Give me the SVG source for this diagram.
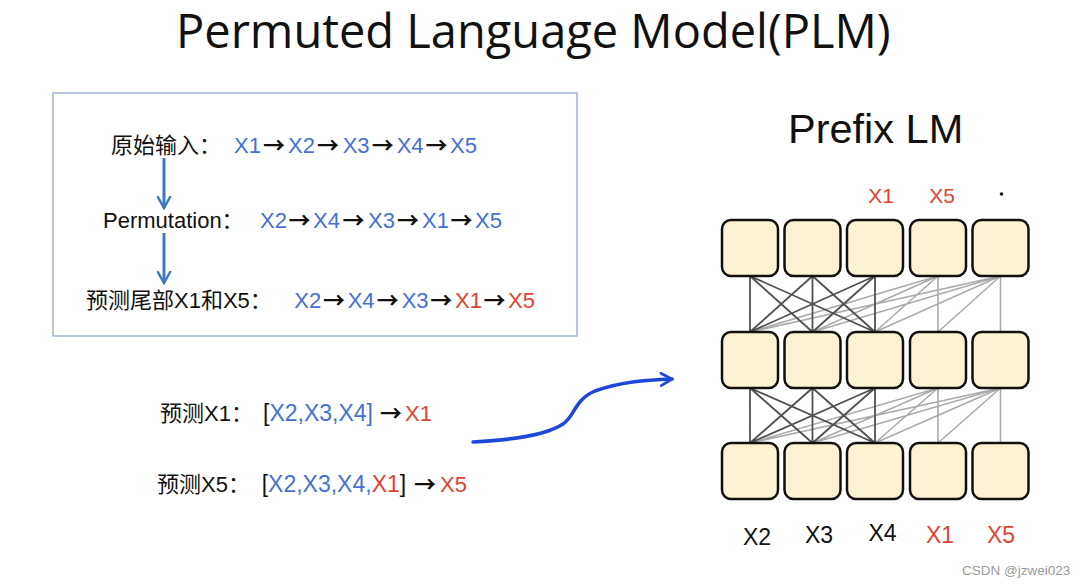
<svg xmlns="http://www.w3.org/2000/svg" width="1080" height="587" viewBox="0 0 1080 587">
<style>
text{font-family:"Liberation Sans","Noto Sans CJK SC",sans-serif;fill:#111}
.cjk{font-family:"Noto Sans CJK SC","Liberation Sans",sans-serif}
.t{font-size:22px}
.b{fill:#4470d8}
.r{fill:#e2432f}
.ar{font-family:"Noto Sans CJK SC",sans-serif;font-weight:bold;text-anchor:middle;fill:#111}
.box{fill:#fdf2d2;stroke:#111;stroke-width:2.5}
.dk{stroke:#505050;stroke-width:1.8}
.gy{stroke:#ababab;stroke-width:1.6}
.lbl{font-size:23px;text-anchor:middle}
</style>
<defs>
<marker id="va" viewBox="0 0 12 12" refX="10" refY="6" markerWidth="5" markerHeight="5" orient="auto" markerUnits="strokeWidth">
<path d="M1,1 L10,6 L1,11" fill="none" stroke="#3b7bc2" stroke-width="2" stroke-linecap="round"/>
</marker>
<marker id="ca" viewBox="0 0 12 12" refX="10" refY="6" markerWidth="4.2" markerHeight="4.2" orient="auto" markerUnits="strokeWidth">
<path d="M1,1 L10,6 L1,11" fill="none" stroke="#1c47d8" stroke-width="2.2" stroke-linecap="round"/>
</marker>
</defs>
<rect width="1080" height="587" fill="#fff"/>
<text id="title" x="176" y="48" style="font-family:'Open Sans','Liberation Sans',sans-serif;font-size:47px">Permuted Language Model(PLM)</text>

<g id="seqbox">
<rect x="53" y="93" width="524" height="243" fill="none" stroke="#93a9cf" stroke-width="1.3"/>
<text class="t" y="153"><tspan x="111" class="cjk">原始输入：</tspan><tspan x="234" class="b">X1</tspan><tspan x="288" class="b">X2</tspan><tspan x="342.7" class="b">X3</tspan><tspan x="396.7" class="b">X4</tspan><tspan x="450" class="b">X5</tspan></text>
<text class="t ar" y="153"><tspan x="274">→</tspan><tspan x="328">→</tspan><tspan x="382.7">→</tspan><tspan x="436.4">→</tspan></text>
<text class="t" y="228"><tspan x="103">Permutation：</tspan><tspan x="260" class="b">X2</tspan><tspan x="313" class="b">X4</tspan><tspan x="368" class="b">X3</tspan><tspan x="422" class="b">X1</tspan><tspan x="475" class="b">X5</tspan></text>
<text class="t ar" y="228"><tspan x="299.5">→</tspan><tspan x="353.5">→</tspan><tspan x="408">→</tspan><tspan x="461.5">→</tspan></text>
<text class="t" y="308"><tspan x="86">预测尾部X1和X5：</tspan><tspan x="294.3" class="b">X2</tspan><tspan x="347.7" class="b">X4</tspan><tspan x="401.7" class="b">X3</tspan><tspan x="455" class="r">X1</tspan><tspan x="508" class="r">X5</tspan></text>
<text class="t ar" y="308"><tspan x="334">→</tspan><tspan x="387.7">→</tspan><tspan x="441.3">→</tspan><tspan x="494.5">→</tspan></text>
</g>

<g id="predictions">
<text class="t" y="421"><tspan x="160">预测X1：</tspan><tspan x="263" style="font-size:23px">[<tspan class="b">X2,X3,X4]</tspan></tspan><tspan x="405" class="r">X1</tspan></text>
<text class="t ar" x="391" y="421">→</text>
<text class="t" y="492"><tspan x="157">预测X5：</tspan><tspan x="261.7" style="font-size:23px">[<tspan class="b">X2,X3,X4,</tspan><tspan class="r">X1</tspan>]</tspan><tspan x="440" class="r">X5</tspan></text>
<text class="t ar" x="425" y="492">→</text>
</g>

<g id="connectors" fill="none">
<path d="M164 158 V208" stroke="#3b7bc2" stroke-width="3" marker-end="url(#va)"/>
<path d="M164 233 V283" stroke="#3b7bc2" stroke-width="3" marker-end="url(#va)"/>
<path d="M473 442 C510 440 545 436 563 424 C575 416 574 400 595 391 C620 382 645 380 672 379" stroke="#1c47d8" stroke-width="3.5" stroke-linecap="round" marker-end="url(#ca)"/>
<g class="gy">
<path d="M938 276 L750 332 M938 276 L812.5 332 M938 276 L875 332 M938 276 L938 332 M1000.5 276 L750 332 M1000.5 276 L812.5 332 M1000.5 276 L875 332 M1000.5 276 L938 332 M1000.5 276 L1000.5 332"/>
<path d="M938 388 L750 443 M938 388 L812.5 443 M938 388 L875 443 M938 388 L938 443 M1000.5 388 L750 443 M1000.5 388 L812.5 443 M1000.5 388 L875 443 M1000.5 388 L938 443 M1000.5 388 L1000.5 443"/>
</g>
<g class="dk">
<path d="M750 276 L750 332 M750 276 L812.5 332 M750 276 L875 332 M812.5 276 L750 332 M812.5 276 L812.5 332 M812.5 276 L875 332 M875 276 L750 332 M875 276 L812.5 332 M875 276 L875 332"/>
<path d="M750 388 L750 443 M750 388 L812.5 443 M750 388 L875 443 M812.5 388 L750 443 M812.5 388 L812.5 443 M812.5 388 L875 443 M875 388 L750 443 M875 388 L812.5 443 M875 388 L875 443"/>
</g>
</g>

<text id="prefix-title" x="788" y="143" style="font-size:41.5px">Prefix LM</text>

<g id="row-top">
<rect class="box" x="722" y="220" width="56" height="56" rx="9"/>
<rect class="box" x="784.5" y="220" width="56" height="56" rx="9"/>
<rect class="box" x="847" y="220" width="56" height="56" rx="9"/>
<rect class="box" x="910" y="220" width="56" height="56" rx="9"/>
<rect class="box" x="972.5" y="220" width="56" height="56" rx="9"/>
</g>
<g id="row-mid">
<rect class="box" x="722" y="332" width="56" height="56" rx="9"/>
<rect class="box" x="784.5" y="332" width="56" height="56" rx="9"/>
<rect class="box" x="847" y="332" width="56" height="56" rx="9"/>
<rect class="box" x="910" y="332" width="56" height="56" rx="9"/>
<rect class="box" x="972.5" y="332" width="56" height="56" rx="9"/>
</g>
<g id="row-bottom">
<rect class="box" x="722" y="443" width="56" height="56" rx="9"/>
<rect class="box" x="784.5" y="443" width="56" height="56" rx="9"/>
<rect class="box" x="847" y="443" width="56" height="56" rx="9"/>
<rect class="box" x="910" y="443" width="56" height="56" rx="9"/>
<rect class="box" x="972.5" y="443" width="56" height="56" rx="9"/>
</g>

<g id="labels-top">
<text class="r" x="881" y="203" style="font-size:21px;text-anchor:middle">X1</text>
<text class="r" x="942" y="203" style="font-size:21px;text-anchor:middle">X5</text>
<circle cx="1001.5" cy="194" r="1.8" fill="#111"/>
</g>
<g id="labels-bottom">
<text class="lbl" x="757" y="545">X2</text>
<text class="lbl" x="819" y="543">X3</text>
<text class="lbl" x="882.5" y="541">X4</text>
<text class="lbl r" x="940" y="543">X1</text>
<text class="lbl r" x="1001" y="542.5">X5</text>
</g>
<text id="watermark" x="962" y="575" style="font-size:13.5px;fill:#9a9a9a">CSDN @jzwei023</text>
</svg>
